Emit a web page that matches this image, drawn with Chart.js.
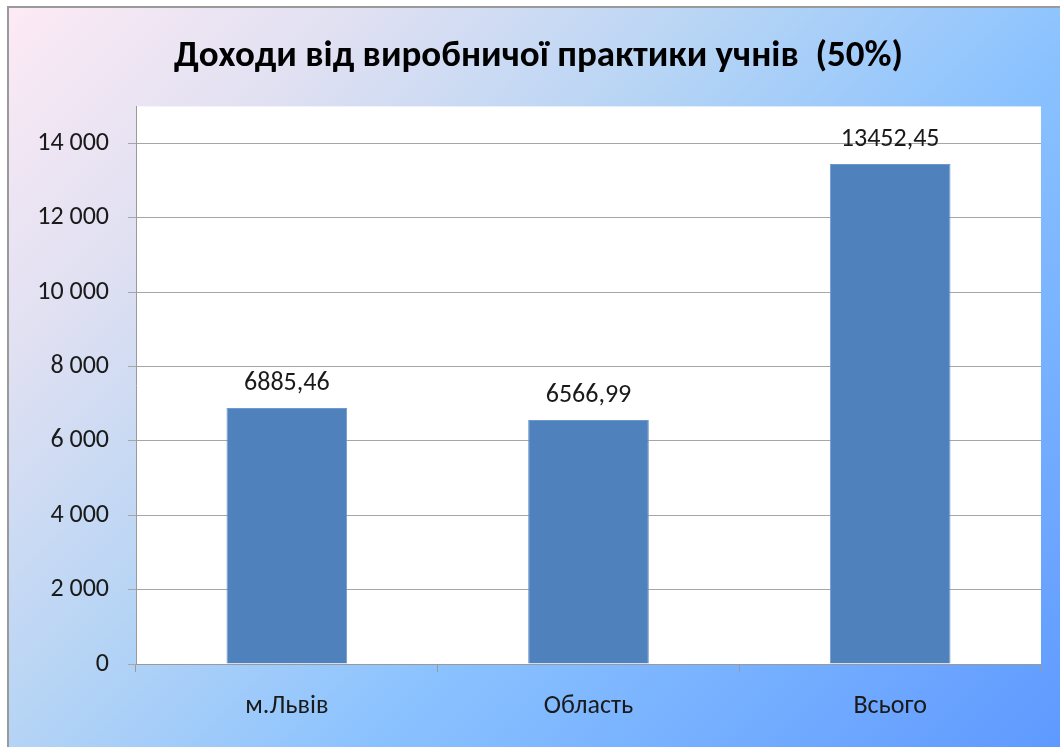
<!DOCTYPE html>
<html lang="uk">
<head>
<meta charset="utf-8">
<title>Доходи від виробничої практики учнів</title>
<script src="https://cdn.jsdelivr.net/npm/chart.js@4.4.1/dist/chart.umd.min.js"></script>
<style>
  html, body { margin: 0; padding: 0; background: #fff; overflow: hidden; }
  #frame {
    position: absolute; left: 7px; top: 6px; width: 1070px; height: 760px;
    border: 2px solid #9a9a9a;
    background: linear-gradient(135deg, #fdeaf5 0%, #dfe0f2 20%, #b5d4f5 40%, #8ac2ff 60%, #5c97ff 100%);
  }
  #wrap { position: absolute; left: 0; top: 0; width: 1060px; height: 747px; }
</style>
</head>
<body>
<div id="frame"></div>
<div id="wrap"><canvas id="incomeChart" width="1060" height="747"></canvas></div>
<script>
const categories = ['м.Львів', 'Область', 'Всього'];
const incomeValues = [6885.46, 6566.99, 13452.45];
const yTicks = [0, 2000, 4000, 6000, 8000, 10000, 12000, 14000];
const chartTitle = 'Доходи від виробничої практики учнів  (50%)';

const FONT = "Carlito, Calibri, 'Open Sans', sans-serif";

function formatThousands(v) {
  return String(v).replace(/\B(?=(\d{3})+(?!\d))/g, ' ');
}

// white plot area + value labels above bars
const plotArea = {
  id: 'plotArea',
  beforeDraw(chart) {
    const { ctx, chartArea } = chart;
    ctx.save();
    ctx.fillStyle = '#ffffff';
    ctx.fillRect(chartArea.left, chartArea.top, chartArea.right - chartArea.left, chartArea.bottom - chartArea.top);
    ctx.restore();
  },
  afterDatasetsDraw(chart) {
    const { ctx } = chart;
    const meta = chart.getDatasetMeta(0);
    ctx.save();
    ctx.font = '26px ' + FONT;
    ctx.fillStyle = '#1a1a1a';
    ctx.textAlign = 'center';
    ctx.textBaseline = 'alphabetic';
    meta.data.forEach((bar, i) => {
      const label = incomeValues[i].toFixed(2).replace('.', ',');
      ctx.fillText(label, bar.x, bar.y - 18);
    });
    ctx.restore();
  }
};

const ctx = document.getElementById('incomeChart');

new Chart(ctx, {
  type: 'bar',
  data: {
    labels: categories,
    datasets: [{
      data: incomeValues,
      backgroundColor: '#4f81bd',
      borderColor: '#6f99cc',
      borderWidth: 1,
      barPercentage: 0.4,
      categoryPercentage: 1
    }]
  },
  options: {
    responsive: false,
    animation: false,
    layout: {
      padding: { left: 36, top: 0, right: 19, bottom: 0 }
    },
    plugins: {
      legend: { display: false },
      tooltip: { enabled: false },
      title: {
        display: true,
        text: chartTitle,
        color: '#000',
        font: { family: FONT, size: 37, weight: 'bold' },
        padding: { top: 35, bottom: 27 }
      }
    },
    scales: {
      x: {
        offset: true,
        afterFit(scale) { scale.height = 83; },
        grid: {
          offset: true,
          drawOnChartArea: false,
          drawTicks: true,
          tickLength: 8,
          color: '#9a9a9a'
        },
        border: { color: '#9a9a9a', width: 1 },
        ticks: {
          color: '#1a1a1a',
          padding: 19,
          font: { family: FONT, size: 26 }
        }
      },
      y: {
        min: 0,
        max: 15000,
        afterFit(scale) { scale.width = 100; },
        afterBuildTicks(scale) {
          scale.ticks = yTicks.map(v => ({ value: v }));
        },
        grid: {
          color: '#a6a6a6',
          tickLength: 8
        },
        border: { color: '#9a9a9a', width: 1 },
        ticks: {
          color: '#1a1a1a',
          padding: 19,
          font: { family: FONT, size: 26 },
          callback: (v) => formatThousands(v)
        }
      }
    }
  },
  plugins: [plotArea]
});
</script>
</body>
</html>
